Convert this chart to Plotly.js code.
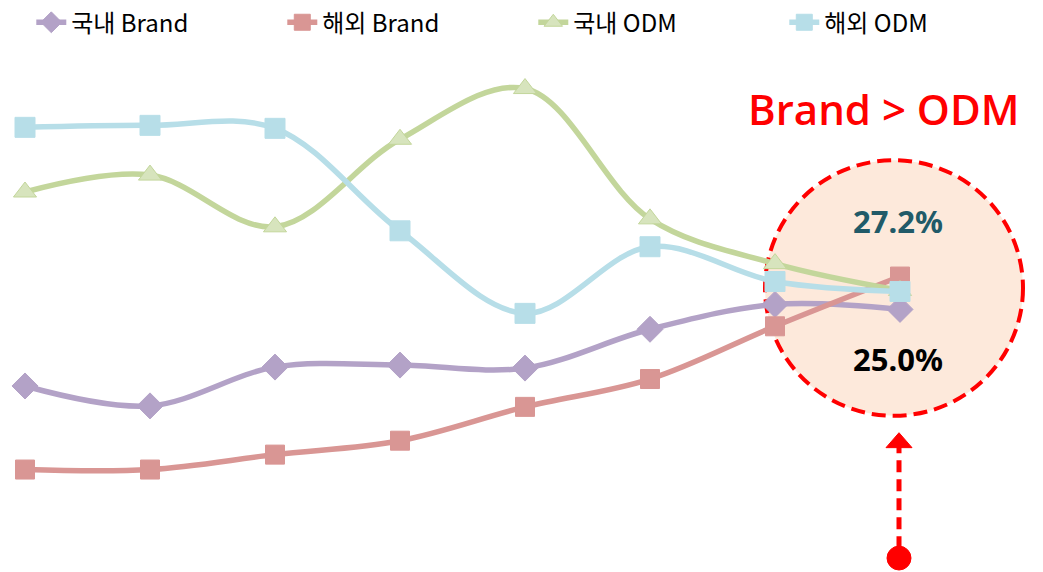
<!DOCTYPE html>
<html>
<head>
<meta charset="utf-8">
<script src="https://cdn.plot.ly/plotly-3.0.1.min.js"></script>
<style>html,body{margin:0;padding:0;background:#fff;}#chart{width:1043px;height:572px;}</style>
</head>
<body>
<div id="chart"></div>
<script>
// Data (unitless share index)
const periods = [1, 2, 3, 4, 5, 6, 7, 8];
const seriesNames = ['국내 Brand', '해외 Brand', '국내 ODM', '해외 ODM'];
const domesticBrand = [17.5, 15.5, 19.4, 19.6, 19.3, 23.2, 25.7, 25.2];
const overseasBrand = [9.1, 9.1, 10.6, 12.0, 15.4, 18.2, 23.5, 28.5];
const domesticODM   = [37.0, 38.7, 33.5, 42.3, 47.4, 34.3, 29.8, 27.1];
const overseasODM   = [43.5, 43.7, 43.4, 33.1, 24.8, 31.5, 28.0, 27.0];
const headline = 'Brand > ODM';
const topLabel = '27.2%';
const bottomLabel = '25.0%';

const W = 1043, H = 572;
const px = v => v / W;
const py = v => 1 - v / H;

function tr(name, y, lineColor, symbol, size, fill, border) {
  return {
    x: periods, y: y, name: name, type: 'scatter', mode: 'lines+markers',
    line: {color: lineColor, width: 5.5, shape: 'spline', smoothing: 1},
    marker: {symbol: symbol, size: size, color: fill, line: {color: border, width: 1}}
  };
}

const data = [
  tr(seriesNames[0], domesticBrand, '#B3A2C7', 'diamond', 20, '#B3A2C7', '#B3A2C7'),
  tr(seriesNames[1], overseasBrand, '#D99694', 'square', 19, '#D99694', '#D99694'),
  tr(seriesNames[2], domesticODM, '#C3D69B', 'triangle-up', 20, '#D7E4BD', '#C3D69B'),
  tr(seriesNames[3], overseasODM, '#B7DEE8', 'square', 20, '#B7DEE8', '#B7DEE8')
];

const red = '#FF0000';
const layout = {
  width: W, height: H,
  margin: {l: 0, r: 0, t: 0, b: 0},
  paper_bgcolor: '#fff', plot_bgcolor: '#fff',
  font: {family: '"Noto Sans CJK KR", "Noto Sans", sans-serif', color: '#000'},
  xaxis: {range: [0.8, 0.8 + W / 125], visible: false, fixedrange: true},
  yaxis: {range: [-1.2, 56], visible: false, fixedrange: true},
  showlegend: true,
  legend: {
    orientation: 'h', x: 0.03, y: 1.005, xanchor: 'left', yanchor: 'top',
    font: {size: 24, family: '"Noto Sans CJK KR", sans-serif', color: '#000'},
    entrywidth: 206, entrywidthmode: 'pixels', bgcolor: 'rgba(0,0,0,0)',
    traceorder: 'normal', itemwidth: 30
  },
  shapes: [
    {type: 'circle', xref: 'paper', yref: 'paper', layer: 'below',
     x0: px(765), x1: px(1023), y0: py(415), y1: py(158),
     fillcolor: '#FDE9DB', line: {color: red, width: 4, dash: '14px,7px'}},
    {type: 'line', xref: 'paper', yref: 'paper',
     x0: px(899), x1: px(899), y0: py(548), y1: py(446),
     line: {color: red, width: 5, dash: '12px,7px'}},
    {type: 'path', xref: 'paper', yref: 'paper',
     path: `M ${px(886)} ${py(447)} L ${px(912)} ${py(447)} L ${px(899)} ${py(432)} Z`,
     fillcolor: red, line: {color: red, width: 1}},
    {type: 'circle', xref: 'paper', yref: 'paper',
     x0: px(887), x1: px(911), y0: py(570), y1: py(546),
     fillcolor: red, line: {color: red, width: 1}}
  ],
  annotations: [
    {xref: 'paper', yref: 'paper', x: px(883), y: py(106), xanchor: 'center', yanchor: 'middle',
     text: headline, showarrow: false,
     font: {size: 42, color: red, weight: 600, family: '"Open Sans", "Noto Sans", sans-serif'}},
    {xref: 'paper', yref: 'paper', x: px(898), y: py(219), xanchor: 'center', yanchor: 'middle',
     text: '<b>' + topLabel + '</b>', showarrow: false,
     font: {size: 31, color: '#215A68', family: '"Noto Sans", sans-serif'}},
    {xref: 'paper', yref: 'paper', x: px(898), y: py(358), xanchor: 'center', yanchor: 'middle',
     text: '<b>' + bottomLabel + '</b>', showarrow: false,
     font: {size: 31, color: '#000', family: '"Noto Sans", sans-serif'}}
  ]
};

Plotly.newPlot('chart', data, layout, {displayModeBar: false, staticPlot: true});
</script>
</body>
</html>
